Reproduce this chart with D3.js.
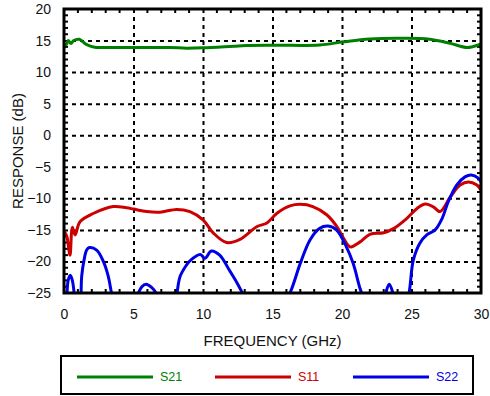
<!DOCTYPE html>
<html>
<head>
<meta charset="utf-8">
<script src="https://cdn.jsdelivr.net/npm/d3@7"></script>
<style>
  body { margin: 0; background: #fff; }
  svg { display: block; font-family: "Liberation Sans", Arial, Helvetica, sans-serif; }
  .grid line { stroke: #000; stroke-width: 2; stroke-dasharray: 4 4; }
  .grid path { display: none; }
  .lbl path, .lbl line { display: none; }
  .lbl text { font-size: 14px; fill: #111; }
</style>
</head>
<body>
<svg width="490" height="396"></svg>
<script>
// waarden: [frequentie GHz, respons dB]
const s21 = [[0, 14.5], [0.15, 14.3], [0.3, 15.0], [0.5, 14.55], [0.7, 15.0], [1.1, 15.2], [1.6, 14.4],
  [2.2, 13.95], [3, 13.9], [5, 13.9], [7.6, 13.9], [8.8, 13.8], [10, 13.85], [12.2, 14.1], [13.1, 14.2],
  [15.3, 14.25], [18.4, 14.3], [20.1, 14.8], [22, 15.25], [24.4, 15.35], [26.3, 15.2], [27.8, 14.55],
  [29, 13.9], [29.8, 14.3], [30, 14.5]];

const s11 = [[0, -15.2], [0.2, -16], [0.43, -19], [0.6, -14.6], [0.8, -15.8], [1.15, -13.7], [2.1, -12.4],
  [3.55, -11.3], [4.5, -11.5], [5, -11.7], [5.95, -12.1], [6.9, -12.2], [8.1, -11.75], [9.06, -12.1],
  [10.0, -13.4], [10.75, -15.5], [11.7, -17.0], [12.66, -16.5], [13.86, -14.5], [14.6, -13.9], [15.3, -12.4],
  [16.26, -11.2], [17.0, -10.95], [17.9, -11.3], [18.9, -12.6], [19.7, -14.7], [20.1, -16.3], [20.6, -17.7],
  [21.3, -16.9], [22.0, -15.7], [23.0, -15.45], [23.7, -14.8], [24.65, -13.2], [25.4, -11.6], [26, -10.9],
  [26.6, -11.4], [27.05, -12.1], [27.8, -9.75], [28.5, -7.9], [29.1, -7.4], [29.7, -7.9], [30, -8.7]];

// S22 zakt tussen de lobben onder -25 dB (buiten beeld, wordt geclipt)
const s22 = [[0, -30], [0.2, -25.5], [0.3, -23], [0.45, -22.2], [0.6, -23], [0.75, -25.5], [1.0, -32],
  [1.22, -25.5], [1.27, -22.4], [1.44, -19.8], [1.63, -18.2], [1.82, -17.8], [2.35, -18.2], [2.83, -20.0],
  [3.19, -22.4], [3.45, -25.3], [4.4, -32], [5.3, -25.3], [5.6, -24], [5.9, -23.6], [6.3, -24.1], [6.7, -25.3],
  [7.4, -32], [8.1, -25.3], [8.35, -22.4], [8.8, -20.6], [9.06, -19.9], [9.8, -18.9], [10.14, -19.5],
  [10.6, -18.35], [11.2, -19], [11.9, -21.4], [12.5, -23.6], [12.9, -25.3], [14.5, -32], [16.2, -25.3],
  [17.0, -20.3], [17.7, -16.6], [18.4, -14.75], [19.0, -14.4], [19.6, -15.0], [20.3, -17.6], [20.8, -20.3],
  [21.3, -24.3], [21.5, -25.5], [22.4, -30], [23.1, -25.3], [23.4, -23.6], [23.7, -25.3], [24.2, -30],
  [24.8, -25.3], [25.13, -19.8], [25.6, -17.1], [26.1, -15.8], [26.7, -15.0], [27.2, -13.2], [27.65, -10.5],
  [28.25, -7.9], [28.85, -6.6], [29.3, -6.3], [29.8, -6.8], [30, -7.4]];

const series = [
  { name: 'S21', data: s21, color: '#008000' },
  { name: 'S11', data: s11, color: '#cc0000' },
  { name: 'S22', data: s22, color: '#0000e6' }
];
const xTicks = [0, 5, 10, 15, 20, 25, 30];
const yTicks = [-25, -20, -15, -10, -5, 0, 5, 10, 15, 20];

const plotL = 64, plotR = 481, plotT = 9, plotB = 293;
const svg = d3.select('svg');

const x = d3.scaleLinear().domain([0, 30]).range([plotL, plotR]);
const y = d3.scaleLinear().domain([-25, 20]).range([plotB, plotT]);

svg.append('defs').append('clipPath').attr('id', 'plot')
  .append('rect').attr('x', plotL).attr('y', plotT).attr('width', plotR - plotL).attr('height', plotB - plotT);

// gestippeld raster
svg.append('g').attr('class', 'grid')
  .attr('transform', `translate(0,${plotB})`)
  .call(d3.axisBottom(x).tickValues(xTicks.slice(1, -1)).tickSize(-(plotB - plotT)).tickFormat(''));
svg.append('g').attr('class', 'grid')
  .attr('transform', `translate(${plotL},0)`)
  .call(d3.axisLeft(y).tickValues(yTicks.slice(1, -1)).tickSize(-(plotR - plotL)).tickFormat(''));

// kleine streepjes aan de binnenkant
const minorX = d3.range(1, 30).filter(d => d % 5 !== 0);
const minorY = d3.range(-24, 20).filter(d => d % 5 !== 0);
const minor = svg.append('g').attr('stroke', '#000').attr('stroke-width', 2);
minorX.forEach(d => {
  minor.append('line').attr('x1', x(d)).attr('x2', x(d)).attr('y1', plotB).attr('y2', plotB - 4);
  minor.append('line').attr('x1', x(d)).attr('x2', x(d)).attr('y1', plotT).attr('y2', plotT + 4);
});
minorY.forEach(d => {
  minor.append('line').attr('y1', y(d)).attr('y2', y(d)).attr('x1', plotL).attr('x2', plotL + 4);
  minor.append('line').attr('y1', y(d)).attr('y2', y(d)).attr('x1', plotR).attr('x2', plotR - 4);
});

// lijnen
const line = d3.line().x(d => x(d[0])).y(d => y(d[1])).curve(d3.curveCatmullRom.alpha(0.5));
svg.append('g').attr('clip-path', 'url(#plot)')
  .selectAll('path').data(series).enter().append('path')
  .attr('fill', 'none')
  .attr('stroke', d => d.color)
  .attr('stroke-width', 3)
  .attr('stroke-linejoin', 'round')
  .attr('d', d => line(d.data));

// kader
svg.append('rect').attr('x', plotL).attr('y', plotT).attr('width', plotR - plotL).attr('height', plotB - plotT)
  .attr('fill', 'none').attr('stroke', '#000').attr('stroke-width', 3);

// labels van de assen
svg.append('g').attr('class', 'lbl')
  .attr('transform', `translate(0,${plotB + 13})`)
  .call(d3.axisBottom(x).tickValues(xTicks).tickSize(0).tickFormat(d3.format('d')));
svg.append('g').attr('class', 'lbl')
  .attr('transform', `translate(${plotL - 10},0)`)
  .call(d3.axisLeft(y).tickValues(yTicks).tickSize(0).tickFormat(d3.format('d')));

svg.append('text').attr('x', (plotL + plotR) / 2).attr('y', 346)
  .attr('text-anchor', 'middle').attr('font-size', 15).attr('fill', '#111')
  .text('FREQUENCY (GHz)');
svg.append('text').attr('transform', `translate(23,${(plotT + plotB) / 2}) rotate(-90)`)
  .attr('text-anchor', 'middle').attr('font-size', 15).attr('fill', '#111')
  .text('RESPONSE (dB)');

// legenda
const legend = svg.append('g');
legend.append('rect').attr('x', 61).attr('y', 356).attr('width', 412).attr('height', 38)
  .attr('fill', 'none').attr('stroke', '#000').attr('stroke-width', 2);
const item = legend.selectAll('g.item').data(series).enter().append('g')
  .attr('transform', (d, i) => `translate(${77 + i * 138},377)`);
item.append('line').attr('x1', 0).attr('x2', 76)
  .attr('stroke', d => d.color).attr('stroke-width', 3);
item.append('text').attr('x', 83).attr('dy', '0.35em')
  .attr('font-size', 12.5).attr('fill', d => d.color).text(d => d.name);
</script>
</body>
</html>
